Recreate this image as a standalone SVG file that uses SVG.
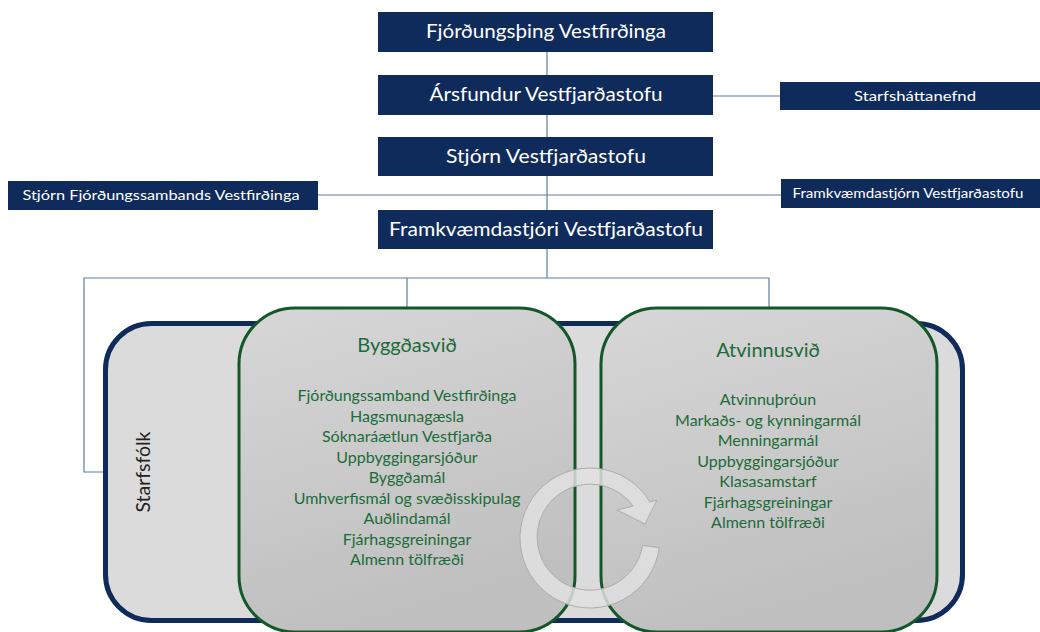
<svg xmlns="http://www.w3.org/2000/svg" width="1040" height="632" viewBox="0 0 1040 632">
<defs>
<linearGradient id="gbox" x1="0" y1="0" x2="0.3" y2="1">
<stop offset="0" stop-color="#d7d7d7"/>
<stop offset="1" stop-color="#bfbfbf"/>
</linearGradient>
<style>
.nb{fill:#0f2b5b}
.nt{fill:#ffffff;font-family:Lato,"Open Sans",sans-serif;text-anchor:middle}
.big{font-size:19px}
.sm{font-size:13.5px}
.con{stroke:#5f7f9d;stroke-width:1.2;fill:none}
.gt{fill:#1c6b3a;font-family:Lato,"Open Sans",sans-serif;text-anchor:middle}
.gh{font-size:20px}
.gi{font-size:16px}
.green{stroke:#14582a;stroke-width:3;fill:url(#gbox)}
</style>
</defs>
<rect width="1040" height="632" fill="#ffffff"/>
<g id="connectors">
<line class="con" x1="547" y1="52" x2="547" y2="278"/>
<line class="con" x1="713" y1="96" x2="783" y2="96" stroke="#9aa6b1"/>
<line class="con" x1="318" y1="195" x2="783" y2="195"/>
<polyline class="con" points="103,472 84,472 84,278 769,278 769,308"/>
<line class="con" x1="407" y1="278" x2="407" y2="308"/>
</g>
<g id="n1"><rect class="nb" x="378" y="12" width="335" height="40"/><text class="nt big" x="546" y="38" textLength="240" lengthAdjust="spacingAndGlyphs">Fjórðungsþing Vestfirðinga</text></g>
<g id="n2"><rect class="nb" x="378" y="75" width="335" height="40"/><text class="nt big" x="546" y="101" textLength="233" lengthAdjust="spacingAndGlyphs">Ársfundur Vestfjarðastofu</text></g>
<g id="n3"><rect class="nb" x="780" y="82" width="260" height="28"/><text class="nt sm" x="915" y="101" textLength="122" lengthAdjust="spacingAndGlyphs">Starfsháttanefnd</text></g>
<g id="n4"><rect class="nb" x="378" y="137" width="335" height="39"/><text class="nt big" x="546" y="163" textLength="200" lengthAdjust="spacingAndGlyphs">Stjórn Vestfjarðastofu</text></g>
<g id="n5"><rect class="nb" x="8" y="181" width="310" height="29"/><text class="nt sm" x="161" y="200" textLength="277" lengthAdjust="spacingAndGlyphs">Stjórn Fjórðungssambands Vestfirðinga</text></g>
<g id="n6"><rect class="nb" x="781" y="179" width="259" height="29"/><text class="nt sm" x="908" y="198" textLength="231" lengthAdjust="spacingAndGlyphs">Framkvæmdastjórn Vestfjarðastofu</text></g>
<g id="n7"><rect class="nb" x="378" y="210" width="335" height="39"/><text class="nt big" x="546" y="236" textLength="314" lengthAdjust="spacingAndGlyphs">Framkvæmdastjóri Vestfjarðastofu</text></g>
<g id="starfsfolk">
<rect x="105.5" y="323.5" width="857" height="297" rx="46" fill="#dbdbdb" stroke="#0f2b5b" stroke-width="5"/>
<text x="150" y="472" transform="rotate(-90 150 472)" font-family="Lato,'Open Sans',sans-serif" font-size="19" fill="#222222" text-anchor="middle" textLength="81" lengthAdjust="spacingAndGlyphs">Starfsfólk</text>
</g>
<g id="byggdasvid">
<rect class="green" x="239" y="308" width="336" height="324" rx="56"/>
<text class="gt gh" x="407" y="352">Byggðasvið</text>
<text class="gt gi" x="407" y="401">Fjórðungssamband Vestfirðinga</text>
<text class="gt gi" x="407" y="421.5">Hagsmunagæsla</text>
<text class="gt gi" x="407" y="442">Sóknaráætlun Vestfjarða</text>
<text class="gt gi" x="407" y="462.5">Uppbyggingarsjóður</text>
<text class="gt gi" x="407" y="483">Byggðamál</text>
<text class="gt gi" x="407" y="503.5">Umhverfismál og svæðisskipulag</text>
<text class="gt gi" x="407" y="524">Auðlindamál</text>
<text class="gt gi" x="407" y="544.5">Fjárhagsgreiningar</text>
<text class="gt gi" x="407" y="565">Almenn tölfræði</text>
</g>
<g id="atvinnusvid">
<rect class="green" x="601" y="308" width="336" height="324" rx="56"/>
<text class="gt gh" x="768" y="357">Atvinnusvið</text>
<text class="gt gi" x="768" y="405">Atvinnuþróun</text>
<text class="gt gi" x="768" y="425.5">Markaðs- og kynningarmál</text>
<text class="gt gi" x="768" y="446">Menningarmál</text>
<text class="gt gi" x="768" y="466.5">Uppbyggingarsjóður</text>
<text class="gt gi" x="768" y="487">Klasasamstarf</text>
<text class="gt gi" x="768" y="507.5">Fjárhagsgreiningar</text>
<text class="gt gi" x="768" y="528">Almenn tölfræði</text>
</g>
<g id="cycle">
<path d="M 659.3 547.7 A 70 70 0 1 1 650 502 L 657 500 L 645 524 L 617 510 L 633 506 A 53 53 0 1 0 642.5 545.4 Z" fill="#e0e0e0" fill-opacity="0.85" stroke="#adadad" stroke-width="1"/>
</g>
</svg>
